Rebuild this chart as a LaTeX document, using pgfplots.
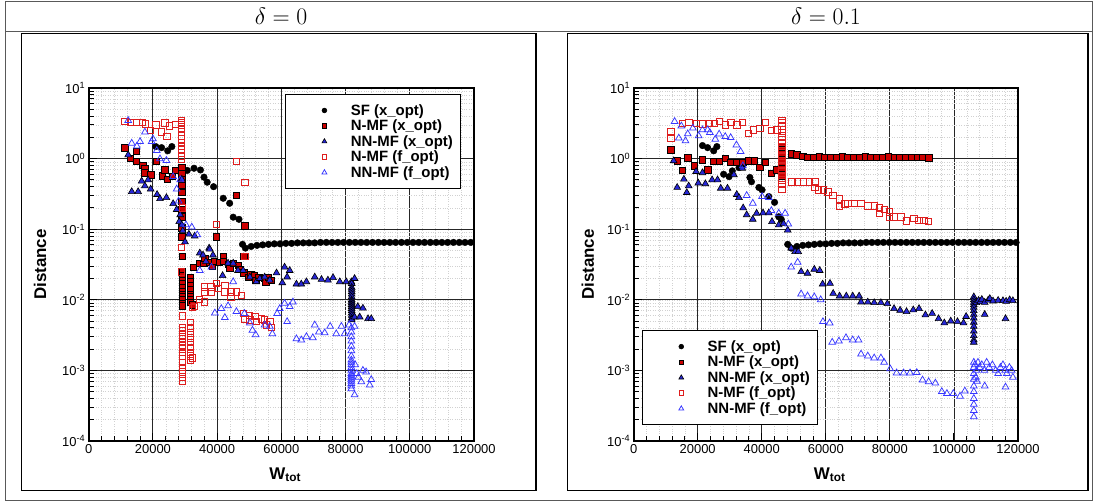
\documentclass[border=0pt]{standalone}
\usepackage{fontspec}
\setmainfont{Liberation Sans}
\usepackage{pgfplots}
\pgfplotsset{compat=1.18}
\definecolor{fred}{RGB}{204,0,0}
\definecolor{fblue}{RGB}{40,40,215}
\definecolor{ored}{RGB}{222,30,30}
\definecolor{oblue}{RGB}{55,55,255}
\pgfplotsset{legimg/.style={legend image code/.code={\path (0bp,0bp) (36bp,0bp); \draw[##1, every mark/.append style={scale=0.72}] plot coordinates {(34bp,0bp)};}}}
\begin{document}
\begin{tikzpicture}[x=1bp,y=1bp]
\useasboundingbox (0,0) rectangle (1094,502);
% table frame
\draw[line width=0.8bp, black!65] (5,1.8) rectangle (1092,500.3);
\draw[line width=0.8bp, black!65] (5,470.3) -- (1092,470.3);
\draw[line width=1.1bp] (21.7,11.3) rectangle (536,468.7);
\draw[line width=1.1bp] (567.7,11.3) rectangle (1088,468.7);
\node[scale=1.15] at (281,486) {\huge $\delta=0$};
\node[scale=1.15] at (826,486) {\huge $\delta=0.1$};

% ---------------- left: delta = 0
\begin{axis}[at={(88.7bp,61bp)}, anchor=south west, width=385.3bp,
    scale only axis, height=353bp,
    ymode=log, log basis y=10,
    xmin=0, xmax=120000, ymin=1e-4, ymax=10,
    xtick={0,20000,40000,60000,80000,100000,120000},
    xticklabels={0,20000,40000,60000,80000,100000,120000},
    scaled x ticks=false,
    minor xtick={4000,8000,12000,16000,24000,28000,32000,36000,44000,48000,52000,56000,64000,68000,72000,76000,84000,88000,92000,96000,104000,108000,112000,116000},
    yticklabel={\pgfmathparse{int(round(\tick))}10\textsuperscript{\pgfmathresult}},
    tick align=inside, tick pos=left,
    grid=both,
    major grid style={black!85, line width=0.9bp},
    minor grid style={black!18, dotted, line width=0.5bp},
    axis line style={line width=1.8bp},
    major tick length=8bp, minor tick length=5bp,
    tick style={black, line width=1bp},
    tick label style={font=\fontsize{13}{15}\selectfont},
    label style={font=\bfseries\fontsize{17}{19}\selectfont},
    xlabel={W\textsubscript{tot}}, ylabel={Distance},
    x label style={at={(axis description cs:0.51,-0.096)}, anchor=center},
    y label style={at={(axis description cs:-0.126,0.5)}, anchor=center},
    legend style={at={(rel axis cs:0.509,0.983)}, anchor=north west,
      draw=black, line width=0.6bp, fill=white,
      font=\bfseries\fontsize{15}{17}\selectfont,
      inner xsep=5bp, inner ysep=8bp, row sep=-0.8bp,
      /tikz/every odd column/.append style={column sep=22bp}},
    legend cell align=left,
  ]
\addplot[only marks, mark=*, mark size=3.3bp, mark options={draw=black, fill=black}, legimg] table {
x y
20900 1.48
22700 1.43
24600 1.29
25900 1.48
30700 0.68
32800 0.73
34800 0.69
35900 0.545
36900 0.463
38900 0.40
41900 0.274
43900 0.233
45000 0.148
46800 0.138
47900 0.061
48800 0.054
50600 0.057
52400 0.059
54200 0.060
56000 0.061
57800 0.062
59600 0.062
61400 0.063
63200 0.063
65000 0.064
66800 0.064
68600 0.064
70400 0.064
72200 0.065
74000 0.065
75800 0.065
77600 0.065
79400 0.065
81200 0.065
83000 0.065
84800 0.065
86600 0.065
88400 0.065
90200 0.065
92000 0.065
93800 0.065
95600 0.065
97400 0.065
99200 0.065
101000 0.065
102800 0.065
104600 0.065
106400 0.065
108200 0.065
110000 0.065
111800 0.065
113600 0.065
115400 0.065
117200 0.065
119000 0.065
};
\addlegendentry{SF (x\_opt)}
\addplot[only marks, mark=square*, mark size=3.2bp, mark options={draw=black, fill=fred, line width=0.6bp}, legimg] table {
x y
11300 1.43
13000 1.01
14900 1.26
14900 0.91
16800 0.81
17500 0.73
17500 0.63
19400 0.59
21100 0.91
23000 0.57
23700 0.69
24400 0.51
26100 0.56
27100 0.68
29000 0.75
29000 0.62
29000 0.50
29000 0.42
29000 0.33
29000 0.25
29000 0.19
29000 0.15
29000 0.104
29000 0.078
29200 0.041
29200 0.025
29200 0.022
29200 0.019
29200 0.017
29200 0.015
29200 0.013
29200 0.012
29200 0.011
29200 0.010
29200 0.009
29200 0.0082
31700 0.021
31700 0.018
31700 0.016
31700 0.014
31700 0.012
31700 0.011
31700 0.010
31700 0.0092
32300 0.0085
32500 0.029
34400 0.033
35900 0.033
36100 0.039
37500 0.034
38500 0.030
39200 0.035
40700 0.034
42000 0.041
42000 0.035
43500 0.032
44000 0.028
45100 0.033
46500 0.031
47000 0.027
48300 0.041
48300 0.024
49900 0.021
50500 0.023
51500 0.022
52000 0.019
53000 0.021
54600 0.020
55200 0.018
56000 0.021
56800 0.019
39800 0.078
46000 0.305
48600 0.111
};
\addlegendentry{N-MF (x\_opt)}
\addplot[only marks, mark=triangle*, mark size=3.9bp, mark options={draw=black, fill=fblue, line width=0.6bp}, legimg] table {
x y
12300 1.13
13400 0.34
15400 0.34
16500 0.48
17500 0.41
18500 0.50
19300 0.37
21300 0.31
22200 0.27
24200 0.28
26300 0.23
27400 0.19
28200 0.128
28500 0.16
29000 0.115
29000 0.51
29300 0.095
30000 0.066
31200 0.085
33000 0.080
34600 0.046
35600 0.043
36500 0.035
37500 0.054
37700 0.052
38700 0.043
41700 0.022
43400 0.033
45000 0.033
46500 0.026
48100 0.026
50200 0.021
52200 0.018
53300 0.020
54800 0.021
56400 0.019
58500 0.024
60300 0.0174
61000 0.029
62600 0.026
61800 0.021
64700 0.0167
66200 0.0167
67800 0.018
70400 0.021
72500 0.0194
74500 0.019
76100 0.0206
78200 0.018
80200 0.018
81800 0.018
82800 0.020
81900 0.017
81900 0.015
81900 0.014
81900 0.013
81900 0.012
81900 0.011
81900 0.010
81900 0.0095
81900 0.009
81900 0.0085
81900 0.008
81900 0.0075
81900 0.007
81900 0.0065
81900 0.006
81900 0.0055
81900 0.0052
83800 0.0080
85400 0.0076
87000 0.0054
88000 0.0054
82800 0.0057
84400 0.0057
};
\addlegendentry{NN-MF (x\_opt)}
\addplot[only marks, mark=square, mark size=3.2bp, mark options={draw=ored, line width=0.75bp}, legimg] table {
x y
11300 3.35
13000 3.24
14900 3.28
16800 3.24
17600 3.10
19300 2.50
20900 3.00
22700 2.40
23700 3.20
25200 2.90
24400 2.05
27000 3.07
28900 3.50
28900 3.20
28900 3.00
28900 2.70
28900 2.40
28900 2.10
28900 1.90
28900 1.70
28900 1.50
28900 1.35
28900 1.20
28900 1.08
28900 0.97
46000 0.91
48600 0.46
39800 0.117
48600 0.041
28900 0.055
28900 0.025
29100 0.20
29200 0.0059
29200 0.0041
29200 0.0037
29200 0.0032
29200 0.0028
29200 0.0025
29200 0.0023
29200 0.0021
29200 0.0018
29200 0.0016
29200 0.0013
29200 0.0011
29200 0.00095
29200 0.00081
29200 0.00071
31700 0.0048
31700 0.0040
31700 0.0034
31700 0.0029
31700 0.0025
31700 0.0021
31700 0.0018
31700 0.0016
31700 0.0014
32300 0.0015
36000 0.0153
38000 0.0153
36200 0.013
38000 0.013
39800 0.017
40300 0.0145
42400 0.016
42400 0.013
44300 0.013
44300 0.011
46000 0.013
47600 0.0116
34400 0.0101
36000 0.0093
33000 0.0080
32300 0.0078
48600 0.0054
48100 0.0064
50000 0.0060
50200 0.0052
51700 0.0058
52200 0.0049
53800 0.0054
54800 0.0052
55400 0.0044
56400 0.0049
56900 0.0041
};
\addlegendentry{N-MF (f\_opt)}
\addplot[only marks, mark=triangle, mark size=3.9bp, mark options={draw=oblue, line width=0.75bp}, legimg] table {
x y
12300 3.46
13400 1.65
15000 1.50
16000 1.74
17500 2.37
19600 1.74
20000 1.90
21200 1.30
22200 0.99
24200 0.94
26300 0.555
27400 0.37
28000 0.25
28500 0.50
30300 0.115
32100 0.107
33800 0.083
34600 0.026
38200 0.029
39300 0.0065
41300 0.0075
42400 0.0056
43400 0.0082
45000 0.018
46000 0.0068
48500 0.0064
50200 0.0047
51000 0.0037
52000 0.0032
54800 0.0044
56400 0.0042
57200 0.0033
58700 0.0064
59500 0.0075
61000 0.0089
62600 0.0080
63600 0.0093
61800 0.0049
64700 0.0028
66200 0.0027
67800 0.0030
69800 0.0029
70400 0.0044
71700 0.0035
73500 0.0034
75200 0.0042
77100 0.0033
78700 0.0042
79700 0.0033
81100 0.0044
82800 0.0042
81800 0.0040
81800 0.0035
81800 0.0030
81800 0.0026
81800 0.0022
81800 0.0019
81800 0.0016
81800 0.0014
81800 0.0013
81800 0.0012
81800 0.0011
81800 0.0010
81800 0.0009
81800 0.00085
81800 0.0008
81800 0.00075
81800 0.0007
81800 0.00065
81800 0.0006
81800 0.00055
82800 0.00045
85400 0.0010
86400 0.00095
88000 0.00074
87500 0.00062
84900 0.00069
83000 0.0012
83500 0.0009
84000 0.0008
};
\addlegendentry{NN-MF (f\_opt)}
\end{axis}

% ---------------- right: delta = 0.1
\begin{axis}[at={(633.6bp,61bp)}, anchor=south west, width=384.4bp,
    scale only axis, height=353bp,
    ymode=log, log basis y=10,
    xmin=0, xmax=120000, ymin=1e-4, ymax=10,
    xtick={0,20000,40000,60000,80000,100000,120000},
    xticklabels={0,20000,40000,60000,80000,100000,120000},
    scaled x ticks=false,
    minor xtick={4000,8000,12000,16000,24000,28000,32000,36000,44000,48000,52000,56000,64000,68000,72000,76000,84000,88000,92000,96000,104000,108000,112000,116000},
    yticklabel={\pgfmathparse{int(round(\tick))}10\textsuperscript{\pgfmathresult}},
    tick align=inside, tick pos=left,
    grid=both,
    major grid style={black!85, line width=0.9bp},
    minor grid style={black!18, dotted, line width=0.5bp},
    axis line style={line width=1.8bp},
    major tick length=8bp, minor tick length=5bp,
    tick style={black, line width=1bp},
    tick label style={font=\fontsize{13}{15}\selectfont},
    label style={font=\bfseries\fontsize{17}{19}\selectfont},
    xlabel={W\textsubscript{tot}}, ylabel={Distance},
    x label style={at={(axis description cs:0.51,-0.096)}, anchor=center},
    y label style={at={(axis description cs:-0.119,0.5)}, anchor=center},
    legend style={at={(rel axis cs:0.021,0.314)}, anchor=north west,
      draw=black, line width=0.6bp, fill=white,
      font=\bfseries\fontsize{15}{17}\selectfont,
      inner xsep=5bp, inner ysep=8bp, row sep=-0.8bp,
      /tikz/every odd column/.append style={column sep=22bp}},
    legend cell align=left,
  ]
\addplot[only marks, mark=*, mark size=3.3bp, mark options={draw=black, fill=black}, legimg] table {
x y
21500 1.53
23100 1.43
25000 1.29
26000 1.48
28100 0.60
29800 0.555
30800 0.67
32900 0.745
34100 0.79
36300 0.54
36800 0.47
39100 0.39
40100 0.36
42200 0.29
44000 0.24
45300 0.15
46100 0.138
48100 0.061
49200 0.054
51000 0.057
52800 0.059
54600 0.060
56400 0.061
58200 0.062
60000 0.062
61800 0.063
63600 0.063
65400 0.064
67200 0.064
69000 0.064
70800 0.064
72600 0.065
74400 0.065
76200 0.065
78000 0.065
79800 0.065
81600 0.065
83400 0.065
85200 0.065
87000 0.065
88800 0.065
90600 0.065
92400 0.065
94200 0.065
96000 0.065
97800 0.065
99600 0.065
101400 0.065
103200 0.065
105000 0.065
106800 0.065
108600 0.065
110400 0.065
112200 0.065
114000 0.065
115800 0.065
117600 0.065
119400 0.065
};
\addlegendentry{SF (x\_opt)}
\addplot[only marks, mark=square*, mark size=3.2bp, mark options={draw=black, fill=fred, line width=0.6bp}, legimg] table {
x y
11600 1.33
13600 0.93
15200 0.68
16900 1.03
19000 0.79
21400 0.96
23100 0.69
25000 0.91
26700 0.91
28600 1.01
30300 0.88
32200 0.88
34100 0.88
36000 0.93
37700 0.93
39400 0.76
41100 0.88
43000 0.62
44700 0.69
46300 1.50
46300 1.35
46300 1.20
46300 1.08
46300 0.97
46300 0.88
46300 0.80
46300 0.72
46300 0.65
46300 0.60
46300 0.56
49200 1.17
50900 1.13
52800 1.07
54300 1.05
56100 1.05
57900 1.06
59700 1.04
61500 1.04
63300 1.05
65100 1.06
66900 1.05
68700 1.04
70500 1.05
72300 1.06
74100 1.05
75900 1.04
77700 1.05
79500 1.06
81300 1.05
83100 1.05
84900 1.04
86700 1.05
88500 1.05
90300 1.04
92100 1.03
};
\addlegendentry{N-MF (x\_opt)}
\addplot[only marks, mark=triangle*, mark size=3.9bp, mark options={draw=black, fill=fblue, line width=0.6bp}, legimg] table {
x y
12500 0.93
13600 0.39
15700 0.51
16600 0.33
17200 0.41
19500 0.655
20200 0.45
21500 0.63
22400 0.44
24500 0.50
26200 0.50
27200 0.38
29300 0.38
31300 0.59
32200 0.31
32900 0.28
33900 0.73
34200 0.20
35300 0.16
37200 0.138
38400 0.168
40400 0.17
42200 0.17
43200 0.128
45300 0.115
46800 0.12
48100 0.097
49200 0.054
50400 0.048
51400 0.048
52300 0.025
54300 0.0237
56400 0.027
58100 0.026
59000 0.0167
61300 0.0171
62300 0.0123
64300 0.0113
66400 0.0113
68400 0.0113
70400 0.0113
71000 0.0093
73100 0.0093
75100 0.0091
77200 0.0091
79200 0.0088
81300 0.0075
83200 0.0071
85200 0.0068
87300 0.0072
89100 0.0075
91100 0.0061
93200 0.0064
95200 0.0054
97000 0.0047
99000 0.0050
101100 0.0049
103000 0.0047
103800 0.0058
106200 0.0110
106200 0.0100
106200 0.0092
106200 0.0085
106200 0.0078
106200 0.0070
106200 0.0062
106200 0.0055
106200 0.0048
106200 0.0042
106200 0.0036
106200 0.0031
106200 0.0027
106200 0.0025
107000 0.0091
107700 0.0098
108200 0.0094
108700 0.0101
109600 0.0092
109600 0.0062
110700 0.0099
111200 0.0104
112200 0.0096
113800 0.0098
115300 0.0097
116100 0.0054
116300 0.0095
117400 0.0100
118400 0.0097
};
\addlegendentry{NN-MF (x\_opt)}
\addplot[only marks, mark=square, mark size=3.2bp, mark options={draw=ored, line width=0.75bp}, legimg] table {
x y
11600 2.42
11600 1.95
15200 3.18
17200 3.24
19500 3.18
21500 3.10
23600 3.18
25200 3.18
26700 3.35
28600 3.00
30300 3.24
32200 3.00
33900 3.28
35800 2.29
37300 2.55
39400 2.70
41100 3.24
43000 2.50
44700 2.55
46300 3.50
46300 3.20
46300 2.90
46300 2.60
46300 2.30
46300 2.00
46300 1.70
46300 1.50
46300 1.30
46300 1.10
46300 0.95
46300 0.80
46300 0.68
46300 0.58
46300 0.50
46300 0.43
46300 0.37
49400 0.47
51100 0.47
53000 0.47
54800 0.47
56600 0.47
56600 0.39
57600 0.36
59200 0.36
60700 0.34
62200 0.30
64300 0.27
64300 0.21
65900 0.227
66900 0.233
69000 0.233
71000 0.233
73100 0.213
75100 0.213
76700 0.20
76700 0.168
78200 0.19
79800 0.177
79800 0.150
81300 0.150
83400 0.150
85200 0.132
87500 0.143
89100 0.133
90600 0.133
92100 0.128
};
\addlegendentry{N-MF (f\_opt)}
\addplot[only marks, mark=triangle, mark size=3.9bp, mark options={draw=oblue, line width=0.75bp}, legimg] table {
x y
12800 3.35
14100 1.95
14900 2.90
16200 1.78
16900 2.24
18500 2.70
20300 2.10
21500 2.55
23100 2.55
23800 2.34
25500 1.88
26700 2.22
28600 2.05
30300 1.98
32100 1.56
33400 1.26
34100 0.79
35300 0.30
37200 0.233
40100 0.29
42200 0.28
43000 0.183
45300 0.168
47300 0.168
48300 0.118
49200 0.029
51200 0.034
52300 0.0121
54300 0.0113
56400 0.0110
58400 0.0100
59100 0.0049
61200 0.0047
62000 0.0025
64100 0.0026
66300 0.0029
68400 0.0027
70200 0.0027
71000 0.0017
73100 0.0016
75100 0.0015
77200 0.0015
78200 0.0013
80100 0.00105
82100 0.00092
84300 0.00092
86300 0.00092
88400 0.00093
90200 0.00073
92100 0.00069
94200 0.00066
96200 0.00050
97800 0.00047
99800 0.00047
101900 0.00043
103400 0.00051
106200 0.0013
106200 0.0011
106200 0.0009
106200 0.00075
106200 0.0006
106200 0.0005
106200 0.0004
106200 0.00033
106200 0.00027
106200 0.00022
106500 0.0012
106800 0.0008
107000 0.0010
107200 0.0007
107500 0.0013
108000 0.0011
108700 0.0012
109500 0.0010
109600 0.0006
110200 0.0013
111000 0.0011
112000 0.0012
113000 0.0010
113800 0.0009
114500 0.0011
115300 0.0012
116000 0.0010
116100 0.00058
116500 0.0009
117300 0.0011
118000 0.0010
118400 0.0008
};
\addlegendentry{NN-MF (f\_opt)}
\end{axis}
\end{tikzpicture}
\end{document}
